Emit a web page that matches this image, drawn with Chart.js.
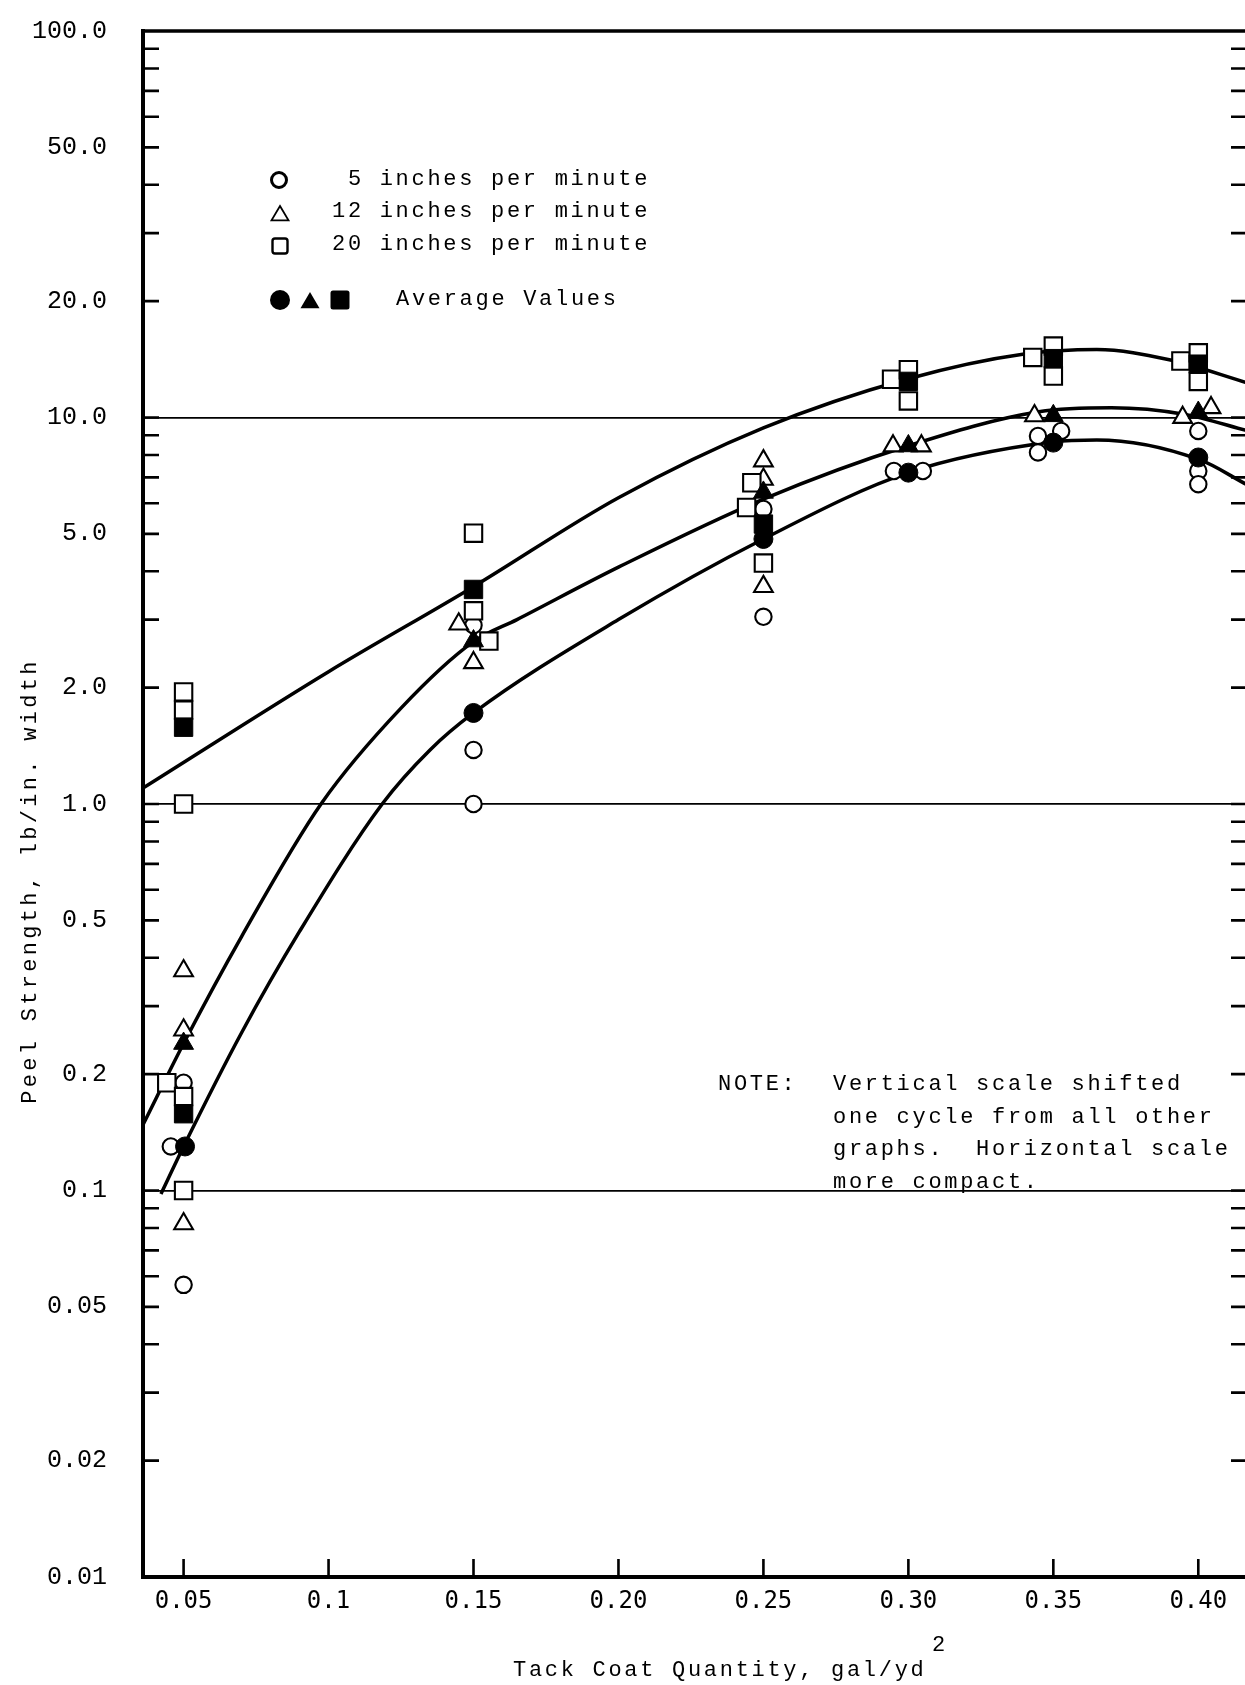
<!DOCTYPE html>
<html>
<head>
<meta charset="utf-8">
<script src="https://cdn.jsdelivr.net/npm/chart.js@4.4.1/dist/chart.umd.min.js"></script>
<style>
  html, body { margin: 0; padding: 0; background: #fff; overflow: hidden; }
  #wrap { position: absolute; left: 0; top: 0; width: 1262px; height: 1685px; }
  canvas { display: block; }
</style>
</head>
<body>
<div id="wrap"><canvas id="peel" width="1262" height="1685"></canvas></div>
<script>
// ---------- text ----------
const speedLabels = [' 5 inches per minute', '12 inches per minute', '20 inches per minute'];
const averageLabel = 'Average Values';
const noteLead = 'NOTE:';
const noteLines = ['Vertical scale shifted', 'one cycle from all other', 'graphs.  Horizontal scale', 'more compact.'];
const xTitle = 'Tack Coat Quantity, gal/yd';
const xTitleSup = '2';
const yTitle = 'Peel Strength, lb/in. width';

// ---------- axes ----------
const xTickValues = [0.05, 0.10, 0.15, 0.20, 0.25, 0.30, 0.35, 0.40];
const xTickLabels = ['0.05', '0.1', '0.15', '0.20', '0.25', '0.30', '0.35', '0.40'];
const yLabelValues = [100, 50, 20, 10, 5, 2, 1, 0.5, 0.2, 0.1, 0.05, 0.02, 0.01];
const yLabelTexts = ['100.0', '50.0', '20.0', '10.0', '5.0', '2.0', '1.0', '0.5', '0.2', '0.1', '0.05', '0.02', '0.01'];
const yDecades = [0.01, 0.1, 1, 10];
const yMantissas = [1, 2, 3, 4, 5, 6, 7, 8, 9];
const yRuledValues = [10, 1, 0.1];

// ---------- 5 inches per minute ----------
const open5X = [0.05, 0.0456, 0.05, 0.15, 0.15, 0.15, 0.25, 0.25, 0.295, 0.305, 0.3447, 0.3527, 0.3447, 0.40, 0.40, 0.40];
const open5Y = [0.19, 0.13, 0.057, 2.9, 1.38, 1.0, 5.8, 3.05, 7.27, 7.27, 8.96, 9.23, 8.12, 9.23, 7.27, 6.72];
const avg5X = [0.0505, 0.15, 0.25, 0.30, 0.35, 0.40];
const avg5Y = [0.13, 1.72, 4.85, 7.2, 8.61, 7.88];
const curve5X = [0.0422, 0.05, 0.07, 0.09, 0.1185, 0.135, 0.15, 0.20, 0.25, 0.30, 0.35, 0.365, 0.40, 0.4168];
const curve5Y = [0.098, 0.13, 0.256, 0.468, 1.0, 1.38, 1.72, 3.0, 4.85, 7.2, 8.65, 8.75, 7.8, 6.7];

// ---------- 12 inches per minute ----------
const open12X = [0.05, 0.05, 0.05, 0.1449, 0.15, 0.25, 0.25, 0.25, 0.2947, 0.3045, 0.3435, 0.3946, 0.4044];
const open12Y = [0.37, 0.26, 0.082, 2.92, 2.32, 7.72, 6.92, 3.65, 8.44, 8.44, 10.1, 10.0, 10.6];
const avg12X = [0.05, 0.15, 0.25, 0.30, 0.35, 0.40];
const avg12Y = [0.24, 2.64, 6.4, 8.44, 10.1, 10.3];
const curve12X = [0.036, 0.05, 0.07, 0.0974, 0.125, 0.15, 0.165, 0.20, 0.25, 0.30, 0.345, 0.37, 0.395, 0.4168];
const curve12Y = [0.148, 0.24, 0.454, 1.0, 1.77, 2.63, 3.0, 4.1, 6.15, 8.45, 10.35, 10.6, 10.2, 9.25];

// ---------- 20 inches per minute ----------
const open20X = [0.05, 0.05, 0.05, 0.0442, 0.05, 0.05, 0.15, 0.15, 0.1553, 0.246, 0.2442, 0.25, 0.2942, 0.30, 0.30, 0.3429, 0.35, 0.35, 0.394, 0.40, 0.40];
const open20Y = [1.95, 1.75, 1.0, 0.19, 0.175, 0.10, 5.02, 3.16, 2.64, 6.78, 5.85, 4.2, 12.56, 13.3, 11.04, 14.3, 15.3, 12.8, 14.0, 14.7, 12.4];
const avg20X = [0.05, 0.05, 0.15, 0.25, 0.30, 0.35, 0.40];
const avg20Y = [1.58, 0.158, 3.59, 5.3, 12.4, 14.2, 13.74];
const curve20X = [0.036, 0.10, 0.15, 0.20, 0.25, 0.30, 0.34, 0.365, 0.39, 0.4168];
const curve20Y = [1.1, 2.2, 3.65, 6.2, 9.4, 12.6, 14.6, 15.0, 14.1, 12.3];

// ---------- helpers ----------
const pts = (xs, ys) => xs.map((x, i) => ({ x: x, y: ys[i] }));
const yTickValues = [];
yDecades.forEach(d => yMantissas.forEach(m => yTickValues.push(Number((m * d).toPrecision(6)))));
yTickValues.push(100);
const near = (a, b) => Math.abs(a - b) <= Math.abs(b) * 1e-6;

const INK = '#000';
const MONO = '"Liberation Mono", "DejaVu Sans Mono", monospace';

function curve(xs, ys) {
  return {
    data: pts(xs, ys), showLine: true, pointRadius: 0, borderColor: INK,
    borderWidth: 3.5, fill: false, cubicInterpolationMode: 'monotone', order: 10
  };
}
function openMarks(xs, ys, style, r) {
  return {
    data: pts(xs, ys), showLine: false, pointStyle: style, pointRadius: r,
    backgroundColor: '#fff', borderColor: INK, borderWidth: 2.1, order: 5
  };
}
function avgMarks(xs, ys, style, r) {
  return {
    data: pts(xs, ys), showLine: false, pointStyle: style, pointRadius: r,
    backgroundColor: INK, borderColor: INK, borderWidth: 1, order: 1
  };
}

// inward tick marks on all sides plus the top and right frame
const framePlugin = {
  id: 'frame',
  beforeDatasetsDraw(chart) {
    const { ctx, chartArea: a, scales: { x, y } } = chart;
    ctx.save();
    ctx.strokeStyle = INK;
    ctx.lineCap = 'butt';
    ctx.lineWidth = 2.6;
    ctx.beginPath();
    y.ticks.forEach(t => {
      const py = y.getPixelForValue(t.value);
      if (py <= a.top + 1 || py >= a.bottom - 1) return;
      ctx.moveTo(a.left, py); ctx.lineTo(a.left + 16, py);
      ctx.moveTo(a.right - 16, py); ctx.lineTo(a.right, py);
    });
    x.ticks.forEach(t => {
      const px = x.getPixelForValue(t.value);
      ctx.moveTo(px, a.bottom); ctx.lineTo(px, a.bottom - 18);
    });
    ctx.stroke();
    ctx.lineWidth = 3.6;
    ctx.beginPath();
    ctx.moveTo(a.left - 2, a.top); ctx.lineTo(a.right, a.top); ctx.lineTo(a.right, a.bottom);
    ctx.stroke();
    ctx.restore();
  }
};

function symbol(ctx, kind, cx, cy, s, filled, lw) {
  ctx.beginPath();
  if (kind === 'circle') {
    ctx.arc(cx, cy, s, 0, Math.PI * 2);
  } else if (kind === 'triangle') {
    ctx.moveTo(cx, cy - s * 0.95);
    ctx.lineTo(cx + s, cy + s * 0.75);
    ctx.lineTo(cx - s, cy + s * 0.75);
    ctx.closePath();
  } else {
    const r = 2.5;
    const x0 = cx - s, y0 = cy - s, w = 2 * s;
    ctx.moveTo(x0 + r, y0);
    ctx.arcTo(x0 + w, y0, x0 + w, y0 + w, r);
    ctx.arcTo(x0 + w, y0 + w, x0, y0 + w, r);
    ctx.arcTo(x0, y0 + w, x0, y0, r);
    ctx.arcTo(x0, y0, x0 + w, y0, r);
    ctx.closePath();
  }
  if (filled) { ctx.fillStyle = INK; ctx.fill(); }
  else { ctx.fillStyle = '#fff'; ctx.fill(); ctx.lineWidth = lw; ctx.strokeStyle = INK; ctx.stroke(); }
}

// key, note and axis titles
const textPlugin = {
  id: 'texts',
  afterDraw(chart) {
    const ctx = chart.ctx;
    ctx.save();
    ctx.fillStyle = INK;
    ctx.textBaseline = 'alphabetic';
    ctx.textAlign = 'left';
    ctx.font = '22px ' + MONO;
    ctx.letterSpacing = '2.7px';

    // key
    symbol(ctx, 'circle', 279, 180, 7.5, false, 3);
    symbol(ctx, 'triangle', 280, 214, 8.5, false, 1.8);
    symbol(ctx, 'square', 280, 246, 7.5, false, 2.4);
    symbol(ctx, 'circle', 280, 300, 10, true);
    symbol(ctx, 'triangle', 310, 301, 9.5, true);
    symbol(ctx, 'square', 340, 300, 9.5, true);
    ctx.fillStyle = INK;
    const rows = [185, 217, 250];
    speedLabels.forEach((s, i) => ctx.fillText(s, 332, rows[i]));
    ctx.fillText(averageLabel, 396, 305);

    // note
    ctx.fillText(noteLead, 718, 1090);
    const noteRows = [1090, 1122.5, 1155, 1187.5];
    noteLines.forEach((s, i) => ctx.fillText(s, 833, noteRows[i]));

    // x title with superscript
    ctx.fillText(xTitle, 513, 1676);
    ctx.fillText(xTitleSup, 932, 1651);

    // y title, reading upward
    ctx.save();
    ctx.translate(36, 881);
    ctx.rotate(-Math.PI / 2);
    ctx.letterSpacing = '3.3px';
    ctx.textAlign = 'center';
    ctx.fillText(yTitle, 0, 0);
    ctx.restore();

    ctx.restore();
  }
};

new Chart(document.getElementById('peel'), {
  type: 'scatter',
  data: {
    datasets: [
      avgMarks(avg20X, avg20Y, 'rect', 13),
      avgMarks(avg12X, avg12Y, 'triangle', 11.5),
      avgMarks(avg5X, avg5Y, 'circle', 9.5),
      openMarks(open20X, open20Y, 'rect', 12.3),
      openMarks(open12X, open12Y, 'triangle', 10.8),
      openMarks(open5X, open5Y, 'circle', 8.2),
      curve(curve20X, curve20Y),
      curve(curve12X, curve12Y),
      curve(curve5X, curve5Y)
    ]
  },
  options: {
    responsive: false,
    animation: false,
    devicePixelRatio: 1,
    layout: { padding: { left: 0, top: 31, right: 15, bottom: 0 } },
    plugins: { legend: { display: false }, tooltip: { enabled: false } },
    scales: {
      x: {
        type: 'linear',
        min: 0.036,
        max: 0.4168,
        afterBuildTicks: s => { s.ticks = xTickValues.map(v => ({ value: v })); },
        afterFit: s => { s.height = 108; s.paddingLeft = 0; s.paddingRight = 0; },
        grid: { display: false, drawTicks: false },
        border: { display: true, color: INK, width: 4 },
        ticks: {
          autoSkip: false,
          maxRotation: 0,
          padding: 10,
          color: INK,
          font: { family: '"DejaVu Sans Mono", monospace', size: 24 },
          callback: v => { const i = xTickValues.findIndex(t => Math.abs(t - v) < 1e-6); return i >= 0 ? xTickLabels[i] : ''; }
        }
      },
      y: {
        type: 'logarithmic',
        min: 0.01,
        max: 100,
        afterBuildTicks: s => { s.ticks = yTickValues.map(v => ({ value: v })); },
        afterFit: s => { s.width = 143; s.paddingTop = 0; s.paddingBottom = 0; },
        grid: {
          drawTicks: false,
          lineWidth: 1.8,
          color: c => (c.tick && yRuledValues.some(v => near(c.tick.value, v))) ? INK : 'rgba(0,0,0,0)'
        },
        border: { display: true, color: INK, width: 4 },
        ticks: {
          autoSkip: false,
          padding: 36,
          color: INK,
          font: { family: MONO, size: 25 },
          callback: v => { const i = yLabelValues.findIndex(t => near(v, t)); return i >= 0 ? yLabelTexts[i] : ''; }
        }
      }
    }
  },
  plugins: [framePlugin, textPlugin]
});
</script>
</body>
</html>
